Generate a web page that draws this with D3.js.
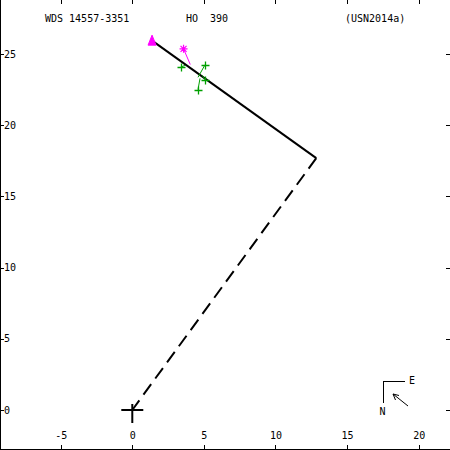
<!DOCTYPE html>
<html>
<head>
<meta charset="utf-8">
<script src="https://cdn.jsdelivr.net/npm/d3@7"></script>
<style>
    body { margin: 0; background: #fff; }
    svg text { font-family: "DejaVu Sans Mono", monospace; font-size: 10px; fill: #000; white-space: pre; }
</style>
</head>
<body>
<div id="chart"></div>
<script>
'use strict';

//tick values
var xTicks = [-5, 0, 5, 10, 15, 20];
var yTicks = [0, 5, 10, 15, 20, 25];

//title texts
var titles = ['WDS 14557-3351', 'HO  390', '(USN2014a)'];

//orbit: solid part and the dashed line back to the primary
var orbitLine = [[1.38, 25.94], [12.85, 17.69]];
var nodeLine = [[12.85, 17.69], [0, 0]];

//first measure (triangle)
var firstObs = [1.38, 25.9];

//magenta measure (asterisk) with its residual
var starObs = [[3.58, 25.36, 4.05, 24.26]];

//green measures: x, y, predicted x, predicted y
var crossObs = [
    [3.38, 24.08, 3.69, 24.2],
    [5.08, 24.24, 4.59, 23.36],
    [5.08, 23.2, 4.88, 23.5],
    [4.59, 22.5, 4.73, 23.29]
];

var width = 450, height = 450;

var x = d3.scaleLinear().domain([-9.24, 22.19]).range([0, width]);
var y = d3.scaleLinear().domain([-2.81, 28.79]).range([height, 0]);

var svg = d3.select('#chart')
    .append('svg')
    .attr('width', width)
    .attr('height', height);

//frame: only left and bottom lines are drawn
svg.append('line')
    .attr('x1', 0.5).attr('x2', 0.5)
    .attr('y1', 0).attr('y2', height)
    .attr('stroke', '#000')
    .attr('shape-rendering', 'crispEdges');
svg.append('line')
    .attr('x1', 0).attr('x2', width)
    .attr('y1', 449.5).attr('y2', 449.5)
    .attr('stroke', '#000')
    .attr('shape-rendering', 'crispEdges');

//axes, ticks pointing inward
function styleAxis(g){
    g.select('.domain').remove();
    g.selectAll('line').attr('stroke', '#000').attr('shape-rendering', 'crispEdges');
    g.selectAll('text').attr('fill', '#000').style('font-family', null).style('font-size', null)
        .attr('font-family', null).attr('font-size', null);
}

svg.append('g')
    .attr('transform', 'translate(0,449)')
    .call(d3.axisTop(x).tickValues(xTicks).tickSize(4).tickPadding(6.5)
        .tickFormat(function(d){ return String(d); }))
    .call(styleAxis);

svg.append('g')
    .attr('transform', 'translate(0,0)')
    .call(d3.axisBottom(x).tickValues(xTicks).tickSize(4).tickFormat(''))
    .call(styleAxis);

svg.append('g')
    .attr('transform', 'translate(0,0)')
    .call(d3.axisRight(y).tickValues(yTicks).tickSize(4).tickPadding(0)
        .tickFormat(function(d){ return String(d); }))
    .call(styleAxis);

svg.append('g')
    .attr('transform', 'translate(450,0)')
    .call(d3.axisLeft(y).tickValues(yTicks).tickSize(4).tickFormat(''))
    .call(styleAxis);

//titles
var titleX = [45, 186, 345];
svg.selectAll('text.title')
    .data(titles)
    .enter()
        .append('text')
        .attr('class', 'title')
        .attr('x', function(d, i){ return titleX[i]; })
        .attr('y', 21.5)
        .text(function(d){ return d; });

var line = d3.line()
    .x(function(d){ return x(d[0]); })
    .y(function(d){ return y(d[1]); });

//orbit
svg.append('path')
    .attr('d', line(orbitLine))
    .attr('fill', 'none')
    .attr('stroke', '#000')
    .attr('stroke-width', 2);

svg.append('path')
    .attr('d', line(nodeLine))
    .attr('fill', 'none')
    .attr('stroke', '#000')
    .attr('stroke-width', 2)
    .attr('stroke-dasharray', '13,7');

//primary star
var ox = x(0), oy = y(0);
svg.append('line')
    .attr('x1', ox - 11).attr('x2', ox + 11)
    .attr('y1', oy).attr('y2', oy)
    .attr('stroke', '#000').attr('stroke-width', 2);
svg.append('line')
    .attr('x1', ox).attr('x2', ox)
    .attr('y1', oy - 6).attr('y2', oy + 13)
    .attr('stroke', '#000').attr('stroke-width', 2);

//residual lines
svg.selectAll('line.resid')
    .data(crossObs)
    .enter()
        .append('line')
        .attr('class', 'resid')
        .attr('x1', function(d){ return x(d[0]); })
        .attr('y1', function(d){ return y(d[1]); })
        .attr('x2', function(d){ return x(d[2]); })
        .attr('y2', function(d){ return y(d[3]); })
        .attr('stroke', '#00a000');

svg.selectAll('line.sresid')
    .data(starObs)
    .enter()
        .append('line')
        .attr('class', 'sresid')
        .attr('x1', function(d){ return x(d[0]); })
        .attr('y1', function(d){ return y(d[1]); })
        .attr('x2', function(d){ return x(d[2]); })
        .attr('y2', function(d){ return y(d[3]); })
        .attr('stroke', '#ff00ff');

//green crosses
var cs = 4;
crossObs.forEach(function(d){
    var cx = Math.round(x(d[0])) + 0.5, cy = Math.round(y(d[1])) + 0.5;
    svg.append('path')
        .attr('d', 'M' + (cx - cs) + ',' + cy + 'H' + (cx + cs) + 'M' + cx + ',' + (cy - cs) + 'V' + (cy + cs))
        .attr('stroke', '#00a000')
        .attr('stroke-width', 1.3)
        .attr('fill', 'none');
});

//magenta asterisk
starObs.forEach(function(d){
    var cx = x(d[0]), cy = y(d[1]), r = 4, k = 3;
    svg.append('path')
        .attr('d', 'M' + (cx - r) + ',' + cy + 'H' + (cx + r) +
            'M' + cx + ',' + (cy - r) + 'V' + (cy + r) +
            'M' + (cx - k) + ',' + (cy - k) + 'L' + (cx + k) + ',' + (cy + k) +
            'M' + (cx - k) + ',' + (cy + k) + 'L' + (cx + k) + ',' + (cy - k))
        .attr('stroke', '#ff00ff')
        .attr('stroke-width', 1.2)
        .attr('fill', 'none');
});

//first measure triangle
var tx = x(firstObs[0]), ty = y(firstObs[1]);
svg.append('path')
    .attr('d', 'M' + tx + ',' + (ty - 6) + 'L' + (tx + 4) + ',' + (ty + 4) + 'L' + (tx - 4) + ',' + (ty + 4) + 'Z')
    .attr('fill', '#ff00ff')
    .attr('stroke', '#ff00ff');

//compass
var compass = svg.append('g').attr('stroke', '#000').attr('fill', 'none');
compass.append('path')
    .attr('d', 'M405,381.5H383.5V403')
    .attr('shape-rendering', 'crispEdges');
compass.append('path')
    .attr('d', 'M408,406L393,394M393,394L399,395.5M393,394L395.5,400');
svg.append('text').attr('x', 409).attr('y', 384).text('E');
svg.append('text').attr('x', 379.5).attr('y', 414.5).text('N');
</script>
</body>
</html>
